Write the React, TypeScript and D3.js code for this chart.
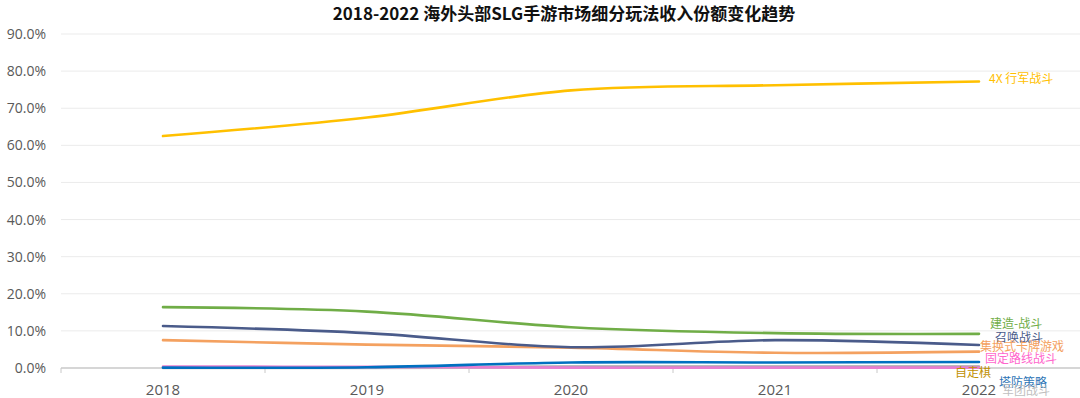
import React from "react";
import * as d3 from "d3";

const years = ["2018", "2019", "2020", "2021", "2022"];
const yTicks = [0, 10, 20, 30, 40, 50, 60, 70, 80, 90];

const seriesNames = ["4X 行军战斗", "建造-战斗", "召唤战斗", "集换式卡牌游戏", "固定路线战斗", "自走棋", "塔防策略", "军团战斗"];
const v4x = [62.5, 67.5, 74.8, 76.2, 77.2];
const vBuild = [16.4, 15.2, 11.0, 9.4, 9.2];
const vSummon = [11.3, 9.4, 5.6, 7.5, 6.2];
const vCard = [7.5, 6.3, 5.5, 4.1, 4.4];
const vRoute = [0.4, 0.3, 0.1, 0.1, 0.1];
const vAuto = [0.2, 0.2, 0.4, 0.4, 0.4];
const vTower = [0.1, 0.2, 1.5, 1.5, 1.6];
const vLegion = [0.0, 0.0, 0.2, 0.2, 0.2];

const seriesValues = [v4x, vBuild, vSummon, vCard, vRoute, vAuto, vTower, vLegion];
const colors = ["#FFC000", "#70AD47", "#4A5B8A", "#F4A160", "#E87FD0", "#A5A5A5", "#0070C0", "#BFBFBF"];
const labelColors = ["#FFC000", "#70AD47", "#4A5B8A", "#F4A160", "#FF66CC", "#BF9000", "#2E75B6", "#BFBFBF"];
const labelDx = [10, 11, 16, 1, 6, -24, 20, 23];
const labelDy = [-3, -10, -7, -5, -9, 6, 21, 24];
const drawOrder = [7, 5, 4, 6, 3, 2, 1, 0];

export default function App() {
  const W = 1080, H = 398;
  const left = 61, right = 1081, top = 34, bottom = 368;
  const x = d3.scaleBand<string>().domain(years).range([left, right]);
  const y = d3.scaleLinear().domain([0, 90]).range([bottom, top]);
  const cx = (yr: string) => (x(yr) as number) + x.bandwidth() / 2;
  const line = d3
    .line<number>()
    .x((_, i) => cx(years[i]))
    .y((d) => y(d))
    .curve(d3.curveCatmullRom.alpha(0.5));
  const font = "'Open Sans', 'Noto Sans CJK SC', sans-serif";
  const cjk = "'Noto Sans CJK SC', 'Open Sans', sans-serif";
  const boundaries = d3.range(years.length + 1).map((i) => left + i * x.bandwidth());

  return (
    <svg width={W} height={H} style={{ position: "absolute", left: 0, top: 0, background: "#fff" }}>
      <text x={564} y={20} textAnchor="middle" fontFamily={cjk} fontWeight={700} fontSize={17} fill="#111">
        2018-2022 海外头部SLG手游市场细分玩法收入份额变化趋势
      </text>
      {yTicks.map((t) => (
        <g key={t}>
          {t > 0 && <line x1={left} x2={right} y1={y(t)} y2={y(t)} stroke="#EBEBEB" strokeWidth={1} />}
          <text x={46} y={y(t) + 5} textAnchor="end" fontFamily={font} fontSize={14} fill="#595959">
            {t.toFixed(1)}%
          </text>
        </g>
      ))}
      <line x1={left} x2={right} y1={bottom} y2={bottom} stroke="#C8C8C8" strokeWidth={1.5} />
      {boundaries.map((bx, i) => (
        <line key={i} x1={bx} x2={bx} y1={bottom} y2={bottom + 5} stroke="#C8C8C8" strokeWidth={1} />
      ))}
      {years.map((yr) => (
        <text key={yr} x={cx(yr)} y={bottom + 27} textAnchor="middle" fontFamily={font} fontSize={15} fill="#595959">
          {yr}
        </text>
      ))}
      {drawOrder.map((si) => (
        <path key={si} d={line(seriesValues[si]) || ""} fill="none" stroke={colors[si]} strokeWidth={2.6} strokeLinecap="round" />
      ))}
      {seriesNames.map((name, si) => {
        const vals = seriesValues[si];
        const last = vals[vals.length - 1];
        return (
          <text
            key={name}
            x={cx(years[years.length - 1]) + labelDx[si]}
            y={y(last) + labelDy[si] + 4}
            fontFamily={cjk}
            fontSize={12}
            fill={labelColors[si]}
          >
            {name}
          </text>
        );
      })}
    </svg>
  );
}
